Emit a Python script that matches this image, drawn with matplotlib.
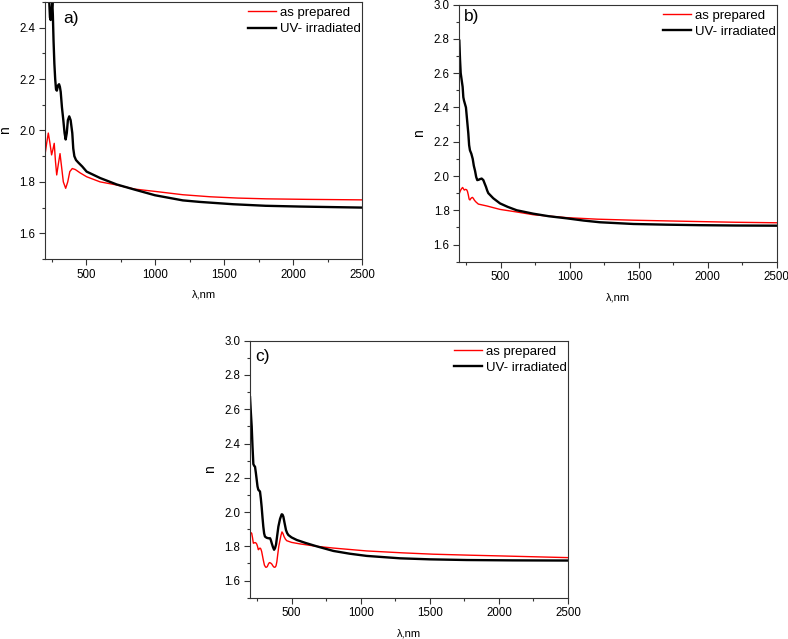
import matplotlib
matplotlib.use("Agg")
import matplotlib.pyplot as plt
from matplotlib.ticker import MultipleLocator

plt.rcParams['font.family'] = ['Liberation Sans', 'DejaVu Sans']

# Panel a) - wavelength (nm) and refractive index n
wl_a_prep = [200, 212, 224, 236, 248, 257, 267, 276, 285, 297, 309, 320, 333, 350,
             365, 380, 398, 420, 455, 502, 600, 720, 850, 998, 1200, 1400, 1600,
             1808, 2100, 2500]
n_a_prep = [1.905, 1.95, 1.99, 1.95, 1.905, 1.925, 1.95, 1.88, 1.827, 1.87, 1.91,
            1.86, 1.80, 1.775, 1.80, 1.84, 1.852, 1.848, 1.835, 1.82, 1.80, 1.788,
            1.772, 1.763, 1.750, 1.742, 1.737, 1.734, 1.732, 1.730]
wl_a_uv = [200, 222, 231, 236, 241, 247, 253, 257, 262, 268, 274, 280, 286, 294,
           302, 308, 314, 323, 333, 342, 350, 358, 366, 376, 386, 398, 405, 413,
           425, 442, 470, 502, 600, 720, 850, 998, 1200, 1325, 1566, 1800, 2050, 2500]
n_a_uv = [2.9, 2.6, 2.50, 2.44, 2.43, 2.46, 2.50, 2.45, 2.35, 2.26, 2.20, 2.16,
          2.155, 2.175, 2.18, 2.17, 2.15, 2.09, 2.04, 1.99, 1.965, 1.99, 2.04, 2.055,
          2.04, 1.99, 1.93, 1.90, 1.885, 1.875, 1.86, 1.84, 1.815, 1.79, 1.77, 1.748,
          1.728, 1.722, 1.713, 1.707, 1.704, 1.70]

# Panel b)
wl_b_prep = [200, 208, 217, 224, 230, 236, 244, 253, 259, 265, 271, 277, 283, 289,
             295, 301, 310, 321, 338, 400, 495, 616, 736, 978, 1200, 1461, 1700,
             1944, 2200, 2500]
n_b_prep = [1.898, 1.915, 1.927, 1.933, 1.925, 1.918, 1.922, 1.92, 1.91, 1.89,
            1.865, 1.86, 1.868, 1.873, 1.875, 1.87, 1.858, 1.848, 1.836, 1.825,
            1.805, 1.79, 1.774, 1.757, 1.748, 1.742, 1.738, 1.734, 1.73, 1.727]
wl_b_uv = [200, 205, 210, 217, 224, 229, 234, 241, 248, 257, 265, 271, 277, 287,
           297, 305, 314, 322, 330, 340, 350, 362, 374, 384, 393, 402, 410, 428,
           446, 495, 550, 616, 736, 850, 978, 1100, 1219, 1461, 1700, 1944, 2200, 2500]
n_b_uv = [2.79, 2.68, 2.60, 2.56, 2.52, 2.46, 2.44, 2.42, 2.40, 2.32, 2.25, 2.18,
          2.15, 2.13, 2.10, 2.06, 2.03, 1.995, 1.976, 1.978, 1.982, 1.985, 1.976,
          1.955, 1.937, 1.915, 1.90, 1.885, 1.87, 1.84, 1.82, 1.80, 1.78, 1.765,
          1.753, 1.74, 1.73, 1.72, 1.716, 1.713, 1.711, 1.71]

# Panel c)
wl_c_prep = [200, 206, 212, 218, 224, 230, 236, 242, 248, 254, 260, 266, 272, 278,
             284, 290, 296, 304, 313, 319, 325, 333, 340, 348, 357, 366, 374, 381,
             388, 394, 400, 408, 417, 424, 431, 438, 446, 455, 465, 500, 562, 682,
             800, 1044, 1300, 1526, 1800, 2008, 2500]
n_c_prep = [1.876, 1.88, 1.876, 1.85, 1.818, 1.82, 1.822, 1.82, 1.814, 1.80, 1.78,
            1.785, 1.79, 1.785, 1.77, 1.745, 1.72, 1.69, 1.678, 1.678, 1.682, 1.697,
            1.705, 1.703, 1.697, 1.685, 1.678, 1.678, 1.686, 1.71, 1.75, 1.80, 1.837,
            1.865, 1.884, 1.875, 1.857, 1.843, 1.833, 1.823, 1.814, 1.80, 1.79,
            1.773, 1.762, 1.754, 1.748, 1.744, 1.734]
wl_c_uv = [200, 206, 212, 218, 224, 230, 236, 242, 248, 254, 260, 266, 272, 278,
           284, 290, 296, 302, 308, 320, 333, 345, 351, 357, 366, 374, 381, 388,
           396, 405, 417, 429, 435, 441, 450, 460, 468, 477, 500, 538, 600, 682,
           803, 920, 1044, 1285, 1500, 1767, 2100, 2500]
n_c_uv = [2.67, 2.58, 2.50, 2.38, 2.28, 2.27, 2.265, 2.23, 2.19, 2.15, 2.13, 2.125,
          2.12, 2.08, 2.03, 1.97, 1.915, 1.875, 1.857, 1.85, 1.847, 1.847, 1.835,
          1.818, 1.795, 1.78, 1.79, 1.81, 1.86, 1.915, 1.96, 1.987, 1.985, 1.973,
          1.935, 1.895, 1.878, 1.866, 1.852, 1.837, 1.82, 1.80, 1.773, 1.757,
          1.744, 1.73, 1.724, 1.72, 1.718, 1.717]

PANELS = [
    ("a)", wl_a_prep, n_a_prep, wl_a_uv, n_a_uv, (1.5, 2.5)),
    ("b)", wl_b_prep, n_b_prep, wl_b_uv, n_b_uv, (1.5, 3.0)),
    ("c)", wl_c_prep, n_c_prep, wl_c_uv, n_c_uv, (1.5, 3.0)),
]

# axes boxes in figure fraction (left, bottom, width, height)
BOXES = [
    [0.0571, 0.5947, 0.4023, 0.4022],
    [0.5829, 0.5905, 0.4028, 0.4022],
    [0.3173, 0.0646, 0.4036, 0.4022],
]
# where the panel letter sits (axes fraction)
LETTER_POS = [(0.057, 0.935), (0.013, 0.955), (0.016, 0.94)]

FRAME = '#333333'


def draw_panel(ax, letter_xy, label, wl_p, n_p, wl_uv, n_uv, ylim):
    """Draw one n(lambda) panel."""
    ax.plot(wl_p, n_p, color='red', lw=1.0, label='as prepared')
    ax.plot(wl_uv, n_uv, color='black', lw=1.7, label='UV- irradiated')
    ax.set_xlim(200, 2500)
    ax.set_ylim(*ylim)
    ax.xaxis.set_major_locator(MultipleLocator(500))
    ax.xaxis.set_minor_locator(MultipleLocator(250))
    ax.yaxis.set_major_locator(MultipleLocator(0.2))
    ax.yaxis.set_minor_locator(MultipleLocator(0.1))
    ax.set_xticks([500, 1000, 1500, 2000, 2500])
    ax.tick_params(which='both', direction='out', color=FRAME, labelsize=8.3,
                   width=0.8, pad=3)
    ax.tick_params(which='major', length=4)
    ax.tick_params(which='minor', length=2.5)
    for s in ax.spines.values():
        s.set_color(FRAME)
        s.set_linewidth(0.8)
    ax.set_xlabel('λ,nm', fontsize=8, labelpad=6.5)
    ax.set_ylabel('n', fontsize=10)
    ax.yaxis.set_label_coords(-0.104, 0.5)
    ax.text(letter_xy[0], letter_xy[1], label, transform=ax.transAxes,
            fontsize=12.5, ha='left', va='center')
    ax.legend(loc='upper right', bbox_to_anchor=(1.022, 1.012), frameon=False,
              fontsize=9.5, handlelength=2.15, handletextpad=0.3,
              labelspacing=0.3, borderaxespad=0.2)


fig = plt.figure(figsize=(7.88, 6.39), dpi=100)
for box, pos, panel in zip(BOXES, LETTER_POS, PANELS):
    ax = fig.add_axes(box)
    draw_panel(ax, pos, *panel)

fig.savefig('out.png', dpi=100)
